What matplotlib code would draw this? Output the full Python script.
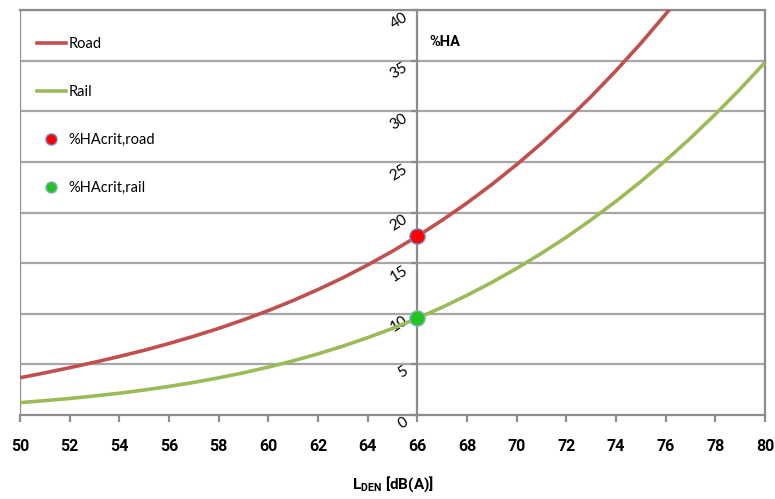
import matplotlib
matplotlib.use("Agg")
import matplotlib.pyplot as plt
from matplotlib.lines import Line2D

# ---- data ----
lden_road = [50, 51, 52, 53, 54, 55, 56, 57, 58, 59, 60, 61, 62, 63, 64, 65,
             66, 67, 68, 69, 70, 71, 72, 73, 74, 75, 76, 77]
ha_road = [3.68, 4.16, 4.67, 5.21, 5.78, 6.39, 7.06, 7.78, 8.55, 9.40, 10.31,
           11.31, 12.39, 13.55, 14.82, 16.18, 17.65, 19.24, 20.94, 22.77, 24.73,
           26.83, 29.07, 31.46, 34.01, 36.71, 39.59, 42.63]
lden_rail = [50, 51, 52, 53, 54, 55, 56, 57, 58, 59, 60, 61, 62, 63, 64, 65,
             66, 67, 68, 69, 70, 71, 72, 73, 74, 75, 76, 77, 78, 79, 80]
ha_rail = [1.22, 1.42, 1.63, 1.88, 2.15, 2.47, 2.82, 3.22, 3.67, 4.17, 4.73,
           5.35, 6.04, 6.80, 7.64, 8.55, 9.55, 10.64, 11.82, 13.10, 14.48, 15.97,
           17.56, 19.28, 21.11, 23.06, 25.14, 27.35, 29.70, 32.19, 34.83]
crit_x = [66, 66]
crit_y = [17.65, 9.55]
series_labels = ["Road", "Rail", "%HAcrit,road", "%HAcrit,rail"]
x_ticks = [50, 52, 54, 56, 58, 60, 62, 64, 66, 68, 70, 72, 74, 76, 78, 80]
y_ticks = [0, 5, 10, 15, 20, 25, 30, 35, 40]

road_color = "#c0504d"
rail_color = "#9bbb59"
grid_color = "#a6a6a6"
axis_color = "#8c8c8c"

plt.rcParams['mathtext.fontset'] = 'custom'
plt.rcParams['mathtext.bf'] = 'Roboto:bold'
plt.rcParams['mathtext.rm'] = 'Roboto'

fig = plt.figure(figsize=(7.75, 4.99), dpi=100)
ax = fig.add_axes([20/775, 1 - 415/499, 745/775, 405/499])
ax.set_xlim(50, 80)
ax.set_ylim(0, 40)

# gridlines
for yv in y_ticks[1:]:
    ax.axhline(yv, color=grid_color, lw=1.6, zorder=1)
ax.axvline(50, color=axis_color, lw=1.6, zorder=1)

# curves
ax.plot(lden_road, ha_road, color=road_color, lw=2.6, zorder=3, solid_capstyle="butt")
ax.plot(lden_rail, ha_rail, color=rail_color, lw=2.6, zorder=3, solid_capstyle="butt")
ax.plot(crit_x[0], crit_y[0], 'o', ms=11, mfc="#ff0000", mec="#6f8fc8", mew=1.0, zorder=5, clip_on=False)
ax.plot(crit_x[1], crit_y[1], 'o', ms=11, mfc="#22c422", mec="#8fb0c8", mew=1.0, zorder=5, clip_on=False)

# spines
ax.spines['left'].set_position(('data', 66))
for s in ['left', 'right', 'top', 'bottom']:
    ax.spines[s].set_color(axis_color)
    ax.spines[s].set_linewidth(1.6)

ax.set_xticks(x_ticks)
ax.set_xticklabels([str(v) for v in x_ticks], fontsize=11.5, fontweight='bold', family='Roboto')
ax.tick_params(axis='x', direction='out', length=5, width=1.6, color=axis_color, pad=12)
ax.set_yticks(y_ticks)
ax.set_yticklabels([str(v) for v in y_ticks], fontsize=11, family='Lato', rotation=32,
                   va='top', ha='right')
ax.tick_params(axis='y', direction='out', length=4, width=1.6, color=axis_color, pad=1)

ax.text(66.5, 36.8, "%HA", fontsize=10.5, fontweight='bold', family='Roboto', va='center', ha='left')

ax.set_xlabel(r"$\mathbf{L_{DEN}}$ [dB(A)]", fontsize=11, fontweight='bold', family='Roboto', labelpad=15)

handles = [
    Line2D([], [], color=road_color, lw=2.6),
    Line2D([], [], color=rail_color, lw=2.6),
    Line2D([], [], ls='none', marker='o', ms=8, mfc="#ff0000", mec="#6f8fc8", mew=1.0),
    Line2D([], [], ls='none', marker='o', ms=8, mfc="#22c422", mec="#8fb0c8", mew=1.0),
]
leg = ax.legend(handles, series_labels, loc='upper left', bbox_to_anchor=(0.009, 0.958),
                frameon=False, handlelength=2.0, handletextpad=0.15, labelspacing=2.32,
                prop={'family': 'Lato', 'size': 10.5}, borderaxespad=0.3)

fig.savefig("out.png", dpi=100)
